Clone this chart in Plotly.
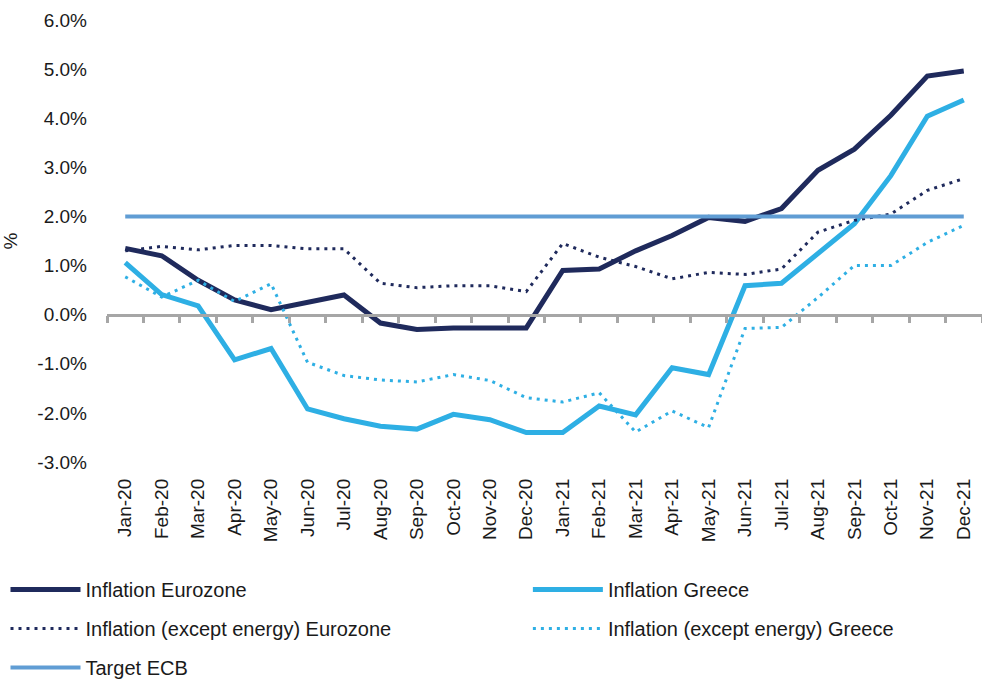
import plotly.graph_objects as go

months = ["Jan-20", "Feb-20", "Mar-20", "Apr-20", "May-20", "Jun-20", "Jul-20", "Aug-20",
          "Sep-20", "Oct-20", "Nov-20", "Dec-20", "Jan-21", "Feb-21", "Mar-21", "Apr-21",
          "May-21", "Jun-21", "Jul-21", "Aug-21", "Sep-21", "Oct-21", "Nov-21", "Dec-21"]

infl_eurozone = [1.35, 1.2, 0.7, 0.3, 0.1, 0.25, 0.4, -0.17, -0.3, -0.27, -0.28, -0.27,
                 0.9, 0.93, 1.3, 1.61, 1.98, 1.9, 2.16, 2.94, 3.37, 4.06, 4.86, 4.96]
infl_greece = [1.06, 0.41, 0.18, -0.92, -0.69, -1.92, -2.12, -2.27, -2.33, -2.03, -2.14, -2.4,
               -2.4, -1.86, -2.04, -1.08, -1.22, 0.59, 0.64, 1.24, 1.85, 2.83, 4.04, 4.37]
infl_ex_energy_eurozone = [1.3, 1.39, 1.32, 1.41, 1.41, 1.34, 1.34, 0.64, 0.55, 0.59, 0.59, 0.47,
                           1.45, 1.17, 0.98, 0.73, 0.86, 0.82, 0.93, 1.68, 1.92, 2.05, 2.53, 2.77]
infl_ex_energy_greece = [0.77, 0.36, 0.7, 0.27, 0.63, -0.97, -1.24, -1.33, -1.37, -1.22, -1.34, -1.69,
                         -1.78, -1.59, -2.39, -1.96, -2.3, -0.28, -0.26, 0.35, 1.0, 1.0, 1.47, 1.82]
target_ecb = [2.0] * len(months)

y_ticks = [-3, -2, -1, 0, 1, 2, 3, 4, 5, 6]
y_tick_labels = ["-3.0%", "-2.0%", "-1.0%", "0.0%", "1.0%", "2.0%", "3.0%", "4.0%", "5.0%", "6.0%"]

NAVY = "#1f2a5c"
LIGHT = "#2eafe4"
TARGET = "#609dd4"
GREY = "#a6a6a6"
FONT = "Liberation Sans, Arial, Helvetica, sans-serif"

fig = go.Figure()
fig.add_trace(go.Scatter(x=months, y=infl_eurozone, mode="lines", name="Inflation Eurozone",
                         line=dict(color=NAVY, width=5), legend="legend", legendgroup="a"))
fig.add_trace(go.Scatter(x=months, y=infl_greece, mode="lines", name="Inflation Greece",
                         line=dict(color=LIGHT, width=5), legend="legend2", legendgroup="b"))
fig.add_trace(go.Scatter(x=months, y=infl_ex_energy_eurozone, mode="lines",
                         name="Inflation (except energy) Eurozone",
                         line=dict(color=NAVY, width=3, dash="3px,5px"), legend="legend", legendgroup="c"))
fig.add_trace(go.Scatter(x=months, y=infl_ex_energy_greece, mode="lines",
                         name="Inflation (except energy) Greece",
                         line=dict(color=LIGHT, width=3, dash="3px,5px"), legend="legend2", legendgroup="d"))
fig.add_trace(go.Scatter(x=months, y=target_ecb, mode="lines", name="Target ECB",
                         line=dict(color=TARGET, width=4), legend="legend", legendgroup="e"))
# invisible trace on a second x-axis to draw the category axis at y=0
fig.add_trace(go.Scatter(x=months, y=[None] * len(months), xaxis="x2", showlegend=False,
                         hoverinfo="skip"))

legend_common = dict(font=dict(family=FONT, size=20, color="#1a1a1a"), itemwidth=70,
                     tracegroupgap=10, bgcolor="rgba(0,0,0,0)", orientation="v",
                     xanchor="left", yanchor="top")

fig.update_layout(
    width=982, height=680,
    margin=dict(l=107, r=0, t=20, b=218, autoexpand=False),
    paper_bgcolor="white", plot_bgcolor="white",
    font=dict(family=FONT, size=19, color="#1a1a1a"),
    xaxis=dict(type="category", range=[-0.5, 23.5], showline=False, showgrid=False,
               zeroline=False, ticks="", tickangle=-90, ticklabelstandoff=12,
               tickfont=dict(size=19), automargin=False),
    xaxis2=dict(type="category", overlaying="x", matches="x", anchor="free", position=1/3,
                side="bottom", showline=True, linecolor=GREY, linewidth=2.5,
                ticks="outside", tickson="boundaries", ticklen=7, tickwidth=2.5,
                tickcolor=GREY, showticklabels=False, showgrid=False, automargin=False),
    yaxis=dict(range=[-3, 6], tickvals=y_ticks, ticktext=y_tick_labels, showgrid=False,
               zeroline=False, showline=False, ticks="", ticklabelstandoff=19,
               title=dict(text="%", standoff=20, font=dict(size=19)),
               tickfont=dict(size=19), automargin=False),
    legend=dict(x=-0.116, y=-0.2445, **legend_common),
    legend2=dict(x=0.481, y=-0.2445, **legend_common),
    showlegend=True,
)

fig.write_html("out.html", config={"displayModeBar": False},
               post_script="document.body.style.margin='0';")
